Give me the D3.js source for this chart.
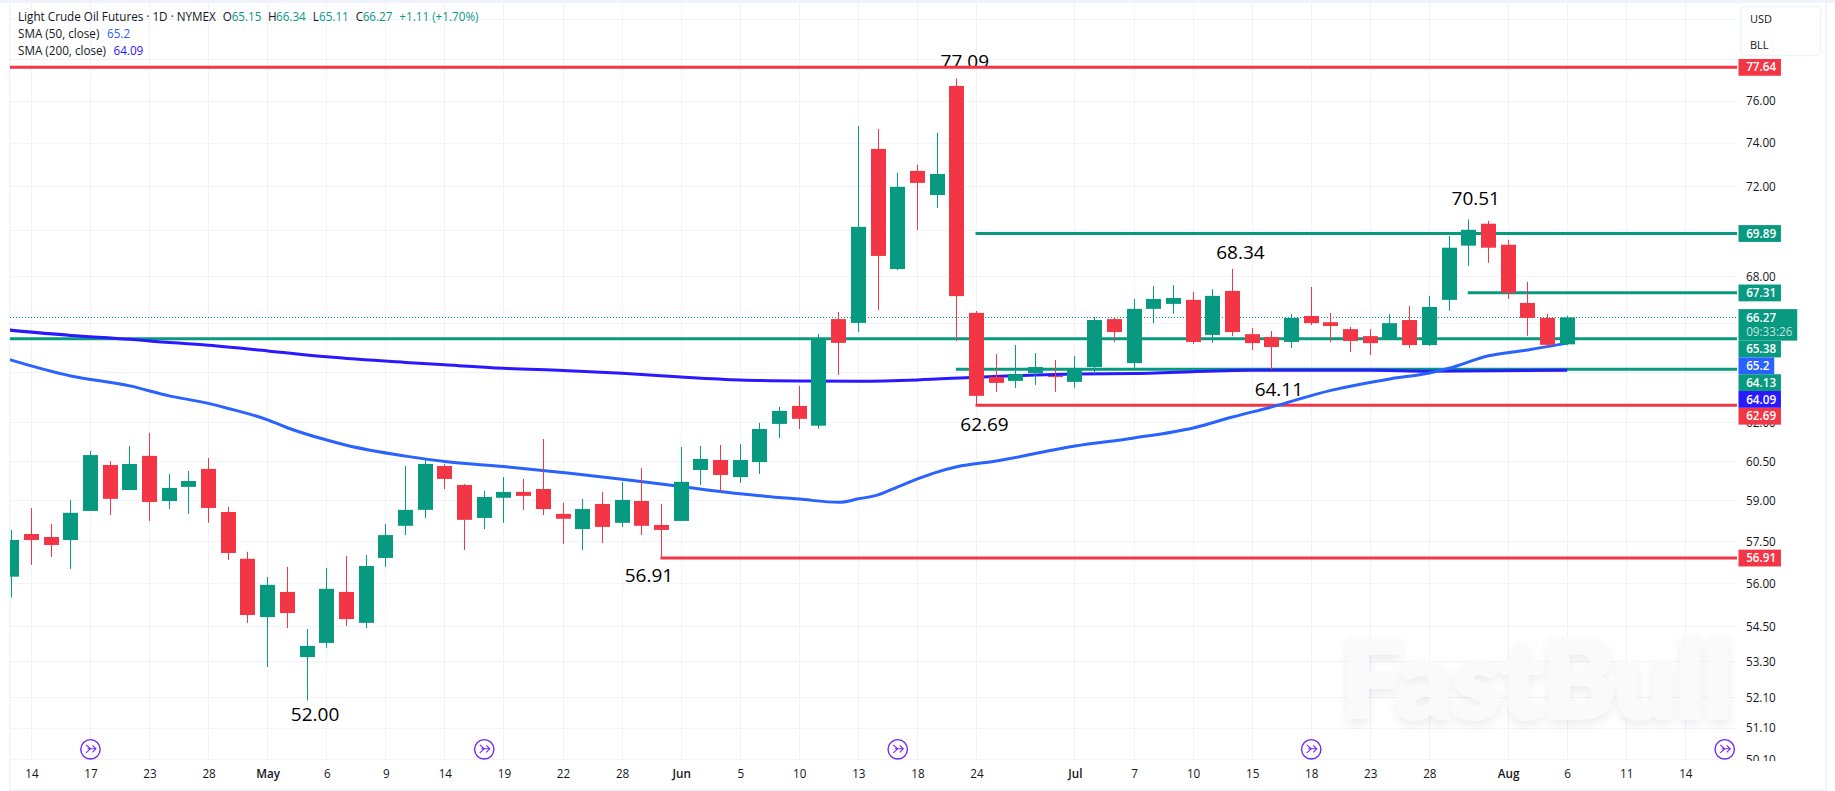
<!DOCTYPE html>
<html lang="en">
<head>
<meta charset="utf-8"/>
<title>Light Crude Oil Futures</title>
<script src="https://d3js.org/d3.v7.min.js"></script>
<style>
    html, body { margin: 0; padding: 0; background: #fff; overflow: hidden; }
    svg { display: block; }
    text { font-family: "Open Sans", sans-serif; }
</style>
</head>
<body>
<script>
    // candles, one per trading day
    var opens = [56.24,57.78,57.67,57.56,58.63,60.36,59.41,60.71,59.00,59.53,60.21,58.59,56.88,54.82,55.70,53.45,53.93,55.70,54.62,56.91,
        58.08,58.67,60.32,59.60,58.37,59.12,59.34,59.45,58.52,57.96,58.89,58.19,59.00,58.11,58.26,60.17,60.55,59.90,60.47,61.95,
        62.66,61.88,66.20,66.04,73.73,68.33,72.71,71.61,76.73,66.46,63.82,63.66,63.98,63.86,63.62,64.22,66.20,64.38,66.63,66.84,
        67.01,65.54,67.39,65.57,65.45,65.25,66.33,66.07,65.78,65.49,65.36,66.16,65.12,67.01,69.35,70.32,69.39,66.88,66.25,65.15];
    var highs = [57.93,58.74,58.15,59.04,60.90,60.51,61.09,61.60,60.02,60.13,60.63,58.78,57.13,56.23,56.59,54.41,56.55,56.98,57.02,58.15,
        60.32,60.63,60.40,59.64,59.38,59.90,59.83,61.36,58.93,59.08,59.34,59.72,60.24,58.89,61.05,61.09,61.13,61.17,61.99,62.62,
        63.46,65.58,66.50,74.81,74.67,72.62,72.99,74.48,77.09,66.54,64.75,65.12,64.79,64.51,64.67,66.29,66.25,67.05,67.60,67.64,
        67.35,67.47,68.34,65.82,65.70,66.42,67.56,66.46,65.87,65.78,66.42,66.75,67.18,69.78,70.51,70.45,69.61,67.78,66.42,66.34];
    var lows = [55.50,56.66,56.95,56.52,58.63,58.48,59.41,58.26,58.70,58.52,58.19,56.84,54.62,53.11,54.44,52.00,53.76,54.51,54.44,56.59,
        57.74,58.37,59.45,57.20,57.96,58.19,58.67,58.48,57.42,57.20,57.45,58.04,57.74,56.91,58.26,59.60,59.34,59.68,60.02,61.40,
        61.75,61.76,63.90,65.66,66.58,68.29,70.04,71.02,65.29,62.69,63.22,63.38,63.50,63.22,63.38,63.94,65.25,64.18,66.03,66.42,
        65.17,65.21,65.49,64.92,64.11,65.00,65.95,65.25,64.83,64.71,65.36,65.00,65.08,66.55,68.47,68.60,67.05,65.50,65.01,65.11];
    var closes = [57.56,57.56,57.38,58.56,60.74,59.08,60.40,58.96,59.49,59.75,58.74,57.09,54.89,55.95,54.96,53.83,55.81,54.75,56.62,57.74,
        58.67,60.40,59.83,58.30,59.15,59.34,59.19,58.70,58.34,58.70,58.04,59.04,58.08,57.93,59.72,60.59,59.98,60.55,61.75,62.46,
        62.15,65.37,65.21,70.18,68.90,71.98,72.16,72.57,67.17,63.06,63.58,63.94,64.22,63.82,64.18,66.16,65.66,66.63,67.05,67.09,
        65.25,67.18,65.66,65.20,65.04,66.25,66.03,65.91,65.29,65.20,66.03,65.12,66.71,69.26,70.05,69.26,67.31,66.25,65.13,66.27];

    // moving averages, read at the bends of each curve
    var sma50Bars = [-1,3,6,8,10,11,13,14,16,17,20,22,25,28,31,34,37,40,42,43,44,45,46,47,48,50,54,57,60,62,64,67,70,72,73,75,77,79];
    var sma50Values = [64.74,63.86,63.46,63.06,62.76,62.56,62.11,61.80,61.32,61.12,60.70,60.49,60.30,60.07,59.82,59.54,59.27,59.07,58.95,59.08,
        59.23,59.53,59.83,60.09,60.29,60.51,61.09,61.40,61.79,62.22,62.62,63.28,63.74,63.98,64.17,64.68,64.92,65.20];
    var sma200Bars = [-1,3,6,7,10,13,16,20,22,25,28,31,34,37,40,43,46,49,52,54,57,63,69,72,79];
    var sma200Values = [65.81,65.52,65.36,65.29,65.11,64.88,64.64,64.41,64.31,64.17,64.08,63.97,63.82,63.70,63.66,63.65,63.70,63.81,63.90,63.94,
        63.96,64.09,64.09,64.05,64.09];

    // drawn horizontal levels; a start bar of null means from the left edge
    var levelPrices = [77.64, 69.89, 67.31, 65.38, 64.13, 62.69, 56.91];
    var levelStarts = [null, 49, 74, null, 48, 49, 33];
    var levelColors = ["#f23645", "#089981", "#089981", "#089981", "#089981", "#f23645", "#f23645"];

    var lastPrice = 66.27;
    var countdown = "09:33:26";
    var sma50Last = 65.2;
    var sma200Last = 64.09;

    var annotBars = [48, 74, 62, 64, 49, 33, 15];
    var annotValues = [77.09, 70.51, 68.34, 64.11, 62.69, 56.91, 52.00];

    // 80, 78, 70, 66 and 64 have grid lines but their labels are never seen
    var gridPrices = [80, 78, 76, 74, 72, 70, 68, 66, 64, 62, 60.5, 59, 57.5, 56, 54.5, 53.3, 52.1, 51.1, 50.1];
    var labelPrices = [76, 74, 72, 68, 62, 60.5, 59, 57.5, 56, 54.5, 53.3, 52.1, 51.1, 50.1];
    var timeTickBars = [1, 4, 7, 10, 13, 16, 19, 22, 25, 28, 31, 34, 37, 40, 43, 46, 49, 54, 57, 60, 63, 66, 69, 72, 76, 79, 82, 85];
    var timeTickLabels = ["14", "17", "23", "28", "May", "6", "9", "14", "19", "22", "28", "Jun", "5", "10", "13", "18", "24", "Jul", "7", "10", "15", "18", "23", "28", "Aug", "6", "11", "14"];
    var eventBars = [4, 24, 45, 66, 87];

    var width = 1835, height = 791;
    var plotLeft = 10, plotRight = 1737, plotTop = 3, plotBottom = 760;
    var up = "#089981", down = "#f23645", ink = "#131722", gridColor = "#f0f3fa";
    var blue50 = "#2962ff", blue200 = "#2a19ff";

    var svg = d3.select("body").append("svg")
        .attr("width", width)
        .attr("height", height);

    var x = d3.scaleLinear().domain([0, 79]).range([11.7, 1567.2]);
    var y = d3.scaleLog().domain([76, 50.1]).range([101, 759.3]);

    var defs = svg.append("defs");
    defs.append("clipPath").attr("id", "plot")
        .append("rect")
        .attr("x", plotLeft).attr("y", plotTop)
        .attr("width", plotRight - plotLeft).attr("height", plotBottom - plotTop);
    defs.append("clipPath").attr("id", "priceAxisClip")
        .append("rect")
        .attr("x", -10).attr("y", plotTop)
        .attr("width", 60).attr("height", plotBottom + 1 - plotTop);
    var blur = defs.append("filter").attr("id", "markShadow")
        .attr("x", "-5%").attr("y", "-20%").attr("width", "110%").attr("height", "150%");
    blur.append("feDropShadow")
        .attr("dx", 0).attr("dy", 5).attr("stdDeviation", 5)
        .attr("flood-color", "#000").attr("flood-opacity", 0.07);

    // panel frame
    svg.append("rect").attr("x", 0).attr("y", 0).attr("width", width).attr("height", 3).attr("fill", gridColor);
    svg.append("rect").attr("x", 9).attr("y", 3).attr("width", 1.5).attr("height", 786).attr("fill", gridColor);
    svg.append("rect").attr("x", 1825).attr("y", 3).attr("width", 2).attr("height", 786).attr("fill", gridColor);
    svg.append("rect").attr("x", 9).attr("y", 789).attr("width", 1818).attr("height", 2).attr("fill", gridColor);

    var px = function(v) { return Math.round(v - 0.5) + 0.5; };

    // grid
    svg.append("g").selectAll("line")
        .data(gridPrices)
        .enter().append("line")
        .attr("x1", plotLeft).attr("x2", plotRight)
        .attr("y1", function(d) { return px(y(d)); })
        .attr("y2", function(d) { return px(y(d)); })
        .attr("stroke", gridColor);
    svg.append("g").selectAll("line")
        .data(timeTickBars)
        .enter().append("line")
        .attr("x1", function(d) { return px(x(d)); })
        .attr("x2", function(d) { return px(x(d)); })
        .attr("y1", plotTop).attr("y2", plotBottom)
        .attr("stroke", gridColor);

    // watermark
    svg.append("text")
        .attr("x", 1341).attr("y", 718)
        .attr("textLength", 392)
        .attr("lengthAdjust", "spacingAndGlyphs")
        .attr("font-size", 108)
        .attr("font-weight", 800)
        .attr("fill", "#fafafa")
        .attr("stroke", "#fafafa")
        .attr("stroke-width", 3)
        .attr("stroke-linejoin", "round")
        .attr("filter", "url(#markShadow)")
        .style("font-family", "Lato, sans-serif")
        .text("FastBull");

    var plot = svg.append("g").attr("clip-path", "url(#plot)");

    // peak and trough labels sit under the level lines
    var annotOffsets = [[8, -10.5], [7, -14], [8, -10], [7, 26], [8, 26], [-12.5, 23.7], [8, 20.5]];
    plot.append("g").selectAll("text")
        .data(annotValues)
        .enter().append("text")
        .attr("x", function(d, i) { return x(annotBars[i]) + annotOffsets[i][0]; })
        .attr("y", function(d, i) { return y(d) + annotOffsets[i][1]; })
        .attr("text-anchor", "middle")
        .attr("font-size", 19)
        .attr("fill", "#000")
        .text(function(d) { return d.toFixed(2); });

    // last price dotted line
    plot.append("line")
        .attr("x1", plotLeft).attr("x2", plotRight)
        .attr("y1", px(y(lastPrice))).attr("y2", px(y(lastPrice)))
        .attr("stroke", up)
        .attr("stroke-dasharray", "1 2");

    // levels
    plot.append("g").selectAll("line")
        .data(levelPrices)
        .enter().append("line")
        .attr("x1", function(d, i) { return levelStarts[i] === null ? plotLeft : x(levelStarts[i]) - 1; })
        .attr("x2", plotRight)
        .attr("y1", function(d) { return y(d); })
        .attr("y2", function(d) { return y(d); })
        .attr("stroke", function(d, i) { return levelColors[i]; })
        .attr("stroke-width", 3);

    // moving averages
    var smaLine = d3.line()
        .x(function(d) { return x(d[0]); })
        .y(function(d) { return y(d[1]); })
        .curve(d3.curveMonotoneX);
    plot.append("path")
        .attr("d", smaLine(d3.zip(sma200Bars, sma200Values)))
        .attr("fill", "none").attr("stroke", blue200).attr("stroke-width", 3);
    plot.append("path")
        .attr("d", smaLine(d3.zip(sma50Bars, sma50Values)))
        .attr("fill", "none").attr("stroke", blue50).attr("stroke-width", 3);

    // candles
    var candle = plot.append("g").selectAll("g")
        .data(d3.range(opens.length))
        .enter().append("g")
        .attr("fill", function(i) { return closes[i] >= opens[i] ? up : down; });
    candle.append("rect")
        .attr("x", function(i) { return Math.round(x(i) - 0.5); })
        .attr("width", 1)
        .attr("y", function(i) { return y(highs[i]); })
        .attr("height", function(i) { return y(lows[i]) - y(highs[i]); });
    candle.append("rect")
        .attr("x", function(i) { return Math.round(x(i) - 7.5); })
        .attr("width", 15)
        .attr("y", function(i) { return y(Math.max(opens[i], closes[i])); })
        .attr("height", function(i) { return Math.max(1, Math.abs(y(opens[i]) - y(closes[i]))); });

    // price axis
    var priceAxis = svg.append("g")
        .attr("transform", "translate(1746,0)")
        .attr("clip-path", "url(#priceAxisClip)")
        .call(d3.axisRight(y).tickValues(labelPrices).tickSize(0).tickPadding(0).tickFormat(d3.format(".2f")));
    priceAxis.select(".domain").remove();
    priceAxis.selectAll("text")
        .attr("font-size", 11.7)
        .style("font-family", '"Open Sans", sans-serif')
        .attr("fill", ink);

    // time axis
    var timeAxis = svg.append("g")
        .attr("transform", "translate(0," + plotBottom + ")")
        .call(d3.axisBottom(x).tickValues(timeTickBars).tickSize(0).tickPadding(10)
            .tickFormat(function(d, i) { return timeTickLabels[i]; }));
    timeAxis.select(".domain").remove();
    timeAxis.selectAll("text")
        .attr("font-size", 11.7)
        .style("font-family", '"Open Sans", sans-serif')
        .attr("font-weight", function(d, i) { return isNaN(+timeTickLabels[i]) ? 600 : 400; })
        .attr("fill", ink);

    // price tags on the axis, pushed down where they would collide
    var tags = [
        { price: 77.64, color: down },
        { price: 69.89, color: up },
        { price: 67.31, color: up },
        { price: lastPrice, color: up, sub: countdown },
        { price: 65.38, color: up },
        { price: sma50Last, color: blue50, label: "65.2" },
        { price: 64.13, color: up },
        { price: sma200Last, color: blue200 },
        { price: 62.69, color: down },
        { price: 56.91, color: down }
    ];
    var nextTop = 0;
    tags.forEach(function(t) {
        var h = t.sub ? 31.5 : 16.8;
        var top = Math.max(y(t.price) - 8.3, nextTop);
        nextTop = top + h;
        var g = svg.append("g").attr("transform", "translate(1738.5," + top + ")");
        var box = g.append("rect").attr("height", h).attr("fill", t.color);
        var label = g.append("text")
            .attr("x", 7.7).attr("y", 8.4)
            .attr("dy", "0.35em")
            .attr("font-size", 11.7)
            .attr("font-weight", 600)
            .attr("fill", "#fff")
            .text(t.label || t.price.toFixed(2));
        var w = label.node().getComputedTextLength();
        if (t.sub) {
            var sub = g.append("text")
                .attr("x", 7.7).attr("y", 22.5)
                .attr("dy", "0.35em")
                .attr("font-size", 11.7)
                .attr("fill", "#fff")
                .attr("fill-opacity", 0.75)
                .text(t.sub);
            w = sub.node().getComputedTextLength();
        }
        box.attr("width", w + 12.5);
    });

    // currency / unit box
    svg.append("rect")
        .attr("x", 1741).attr("y", 6.5)
        .attr("width", 79.5).attr("height", 49)
        .attr("rx", 4)
        .attr("fill", "#fff").attr("stroke", gridColor).attr("stroke-width", 1.5);
    svg.append("text").attr("x", 1750).attr("y", 18.7).attr("dy", "0.35em").attr("font-size", 11).attr("fill", ink).text("USD");
    svg.append("text").attr("x", 1750).attr("y", 44.7).attr("dy", "0.35em").attr("font-size", 11).attr("fill", ink).text("BLL");

    // legend
    var legend = svg.append("g").attr("font-size", 11.7);
    function legendText(tx, ty, str, color) {
        legend.append("text").attr("x", tx).attr("y", ty).attr("dy", "0.35em").attr("fill", color).text(str);
    }
    legendText(18, 16.7, "Light Crude Oil Futures \u00b7 1D \u00b7 NYMEX", ink);
    legendText(222.7, 16.7, "O", ink);
    legendText(231.7, 16.7, "65.15", up);
    legendText(268, 16.7, "H", ink);
    legendText(276, 16.7, "66.34", up);
    legendText(312.7, 16.7, "L", ink);
    legendText(319, 16.7, "65.11", up);
    legendText(355.7, 16.7, "C", ink);
    legendText(362.7, 16.7, "66.27", up);
    legendText(399.3, 16.7, "+1.11 (+1.70%)", up);
    legendText(18, 33.7, "SMA (50, close)", ink);
    legendText(107, 33.7, "65.2", blue50);
    legendText(18, 50.7, "SMA (200, close)", ink);
    legendText(113.5, 50.7, "64.09", blue200);

    // event markers along the bottom of the plot
    var marker = svg.append("g").selectAll("g")
        .data(eventBars)
        .enter().append("g")
        .attr("transform", function(d) { return "translate(" + x(d) + ",749.3)"; })
        .attr("fill", "none")
        .attr("stroke", "#7326f5");
    marker.append("circle").attr("r", 9.7).attr("stroke-width", 1.4);
    marker.append("path")
        .attr("d", "M-4.5,-4.5L0,-0.5L-4.5,3.5M-3,-0.5H5.5M2,-4L5.5,-0.5L2,3")
        .attr("stroke-width", 1.1);
</script>
</body>
</html>
